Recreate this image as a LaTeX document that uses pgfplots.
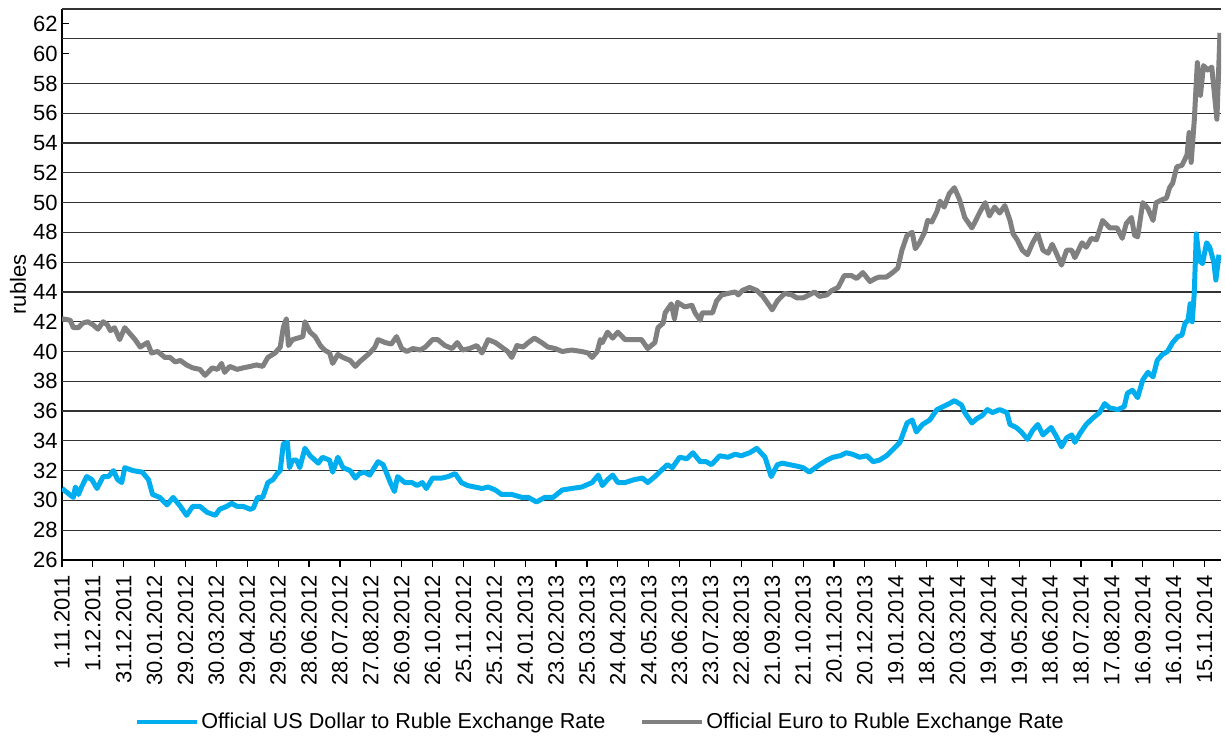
\documentclass[border=0pt]{standalone}
\usepackage{fontspec}
\setmainfont{Liberation Sans}
\usepackage{pgfplots}
\pgfplotsset{compat=1.18}
\usepackage{pgfplotstable}
\usetikzlibrary{calc}
\definecolor{usdcol}{RGB}{0,174,239}
\definecolor{eurcol}{RGB}{128,128,128}

% day index from 1.11.2011, rate in rubles
\pgfplotstableread{
d v
0 30.8
11 30.2
13 30.9
16 30.4
19 30.9
24 31.6
29 31.4
34 30.8
40 31.6
45 31.6
50 32.0
54 31.4
58 31.2
61 32.2
69 32.0
78 31.9
84 31.4
88 30.4
95 30.2
102 29.7
108 30.2
115 29.6
121 29.0
127 29.6
134 29.6
141 29.2
149 29.0
153 29.4
160 29.6
165 29.8
170 29.6
176 29.6
183 29.4
186 29.5
190 30.2
195 30.2
200 31.2
205 31.4
209 31.8
212 32.0
215 33.8
219 33.9
221 32.2
224 32.7
228 32.7
231 32.2
236 33.5
241 33.0
249 32.5
253 32.9
260 32.7
263 31.9
268 32.9
273 32.2
280 32.0
285 31.5
289 31.8
294 31.9
299 31.7
307 32.6
312 32.4
319 31.2
323 30.6
326 31.6
333 31.2
340 31.2
345 31.0
350 31.2
354 30.8
360 31.5
369 31.5
375 31.6
382 31.8
388 31.2
394 31.0
401 30.9
408 30.8
414 30.9
421 30.7
427 30.4
437 30.4
447 30.2
453 30.2
461 29.9
469 30.2
477 30.2
486 30.7
495 30.8
505 30.9
515 31.2
521 31.7
525 31.0
530 31.4
535 31.7
540 31.2
547 31.2
556 31.4
564 31.5
569 31.2
576 31.6
588 32.4
593 32.2
600 32.9
607 32.8
613 33.2
620 32.6
626 32.6
631 32.4
639 33.0
647 32.9
654 33.1
660 33.0
668 33.2
675 33.5
683 32.9
689 31.6
695 32.4
700 32.5
707 32.4
714 32.3
720 32.2
726 31.9
736 32.4
743 32.7
749 32.9
756 33.0
762 33.2
768 33.1
775 32.9
782 33.0
788 32.6
794 32.7
801 33.0
807 33.4
814 33.9
821 35.2
826 35.4
830 34.6
836 35.1
843 35.4
850 36.1
856 36.3
862 36.5
867 36.7
874 36.4
877 35.9
884 35.2
889 35.5
894 35.7
899 36.1
904 35.9
911 36.1
918 35.9
921 35.1
927 34.9
932 34.6
938 34.1
943 34.7
948 35.1
953 34.4
961 34.9
966 34.3
971 33.6
976 34.2
981 34.4
984 33.9
989 34.5
995 35.1
1001 35.5
1008 35.9
1013 36.5
1018 36.2
1026 36.1
1032 36.3
1035 37.2
1040 37.4
1045 36.9
1050 38.1
1055 38.6
1060 38.3
1064 39.4
1069 39.8
1074 40.0
1079 40.6
1084 41.0
1088 41.1
1091 41.9
1094 42.1
1096 43.2
1098 42.0
1100 43.9
1102 47.9
1105 46.1
1108 45.9
1112 47.3
1115 47.0
1119 46.0
1121 44.8
1124 46.5
}\usd

\pgfplotstableread{
d v
0 42.2
8 42.1
11 41.6
16 41.6
20 41.9
25 42.0
30 41.8
35 41.5
40 42.0
44 41.8
47 41.4
51 41.6
56 40.8
61 41.6
66 41.2
71 40.8
76 40.3
83 40.6
87 39.9
93 40.0
100 39.6
105 39.6
110 39.3
115 39.4
121 39.1
127 38.9
134 38.8
139 38.4
146 38.9
151 38.8
155 39.2
158 38.6
163 39.0
170 38.8
176 38.9
183 39.0
189 39.1
195 39.0
200 39.6
207 39.9
212 40.3
215 41.6
218 42.2
220 40.4
224 40.8
229 40.9
234 41.0
236 42.0
241 41.3
246 41.0
251 40.4
255 40.1
260 39.9
263 39.2
268 39.8
273 39.6
280 39.4
285 39.0
289 39.3
299 39.9
304 40.3
307 40.8
314 40.6
320 40.5
325 41.0
330 40.2
335 40.0
341 40.2
348 40.1
353 40.3
360 40.8
365 40.8
372 40.4
379 40.2
384 40.6
389 40.1
396 40.2
403 40.4
408 39.9
414 40.8
421 40.6
427 40.3
433 40.0
437 39.6
442 40.4
448 40.3
453 40.6
459 40.9
466 40.6
472 40.3
479 40.2
486 40.0
495 40.1
505 40.0
511 39.9
515 39.6
520 40.0
523 40.8
525 40.6
530 41.3
535 40.9
540 41.3
547 40.8
556 40.8
563 40.8
569 40.2
576 40.6
579 41.6
584 41.9
586 42.6
592 43.2
595 42.2
598 43.3
605 43.0
612 43.1
615 42.6
620 42.1
622 42.6
627 42.6
632 42.6
636 43.4
641 43.8
647 43.9
654 44.0
657 43.8
661 44.1
668 44.3
675 44.1
681 43.7
686 43.2
690 42.8
695 43.4
702 43.9
709 43.8
714 43.6
720 43.6
726 43.8
731 44.0
736 43.7
743 43.8
748 44.1
754 44.3
760 45.1
767 45.1
772 44.9
778 45.3
785 44.7
790 44.9
794 45.0
801 45.0
807 45.3
812 45.6
816 46.8
821 47.8
826 48.0
829 46.9
833 47.3
838 48.0
841 48.8
845 48.7
850 49.4
853 50.1
857 49.7
862 50.6
867 51.0
872 50.2
877 49.0
884 48.3
887 48.7
892 49.4
897 50.0
901 49.1
906 49.7
911 49.3
916 49.8
921 48.8
924 47.9
928 47.5
933 46.8
938 46.5
943 47.3
948 47.9
953 46.8
958 46.6
962 47.2
966 46.6
971 45.8
976 46.8
981 46.8
984 46.3
991 47.3
995 47.0
1000 47.6
1005 47.5
1011 48.8
1018 48.3
1025 48.3
1030 47.6
1034 48.6
1039 49.0
1042 47.8
1045 47.7
1050 50.0
1055 49.6
1060 48.8
1063 50.0
1069 50.2
1073 50.3
1076 51.0
1079 51.3
1083 52.4
1088 52.5
1093 53.2
1095 54.7
1097 52.7
1100 55.5
1103 59.4
1106 57.2
1109 59.2
1113 58.9
1117 59.1
1122 55.6
1125 61.4
}\eur

\begin{document}
\begin{tikzpicture}
\begin{axis}[
  scale only axis,
  width=579.5pt, height=275.5pt,
  xmin=0, xmax=1126,
  ymin=26, ymax=63,
  axis x line=bottom, axis y line=left,
  axis line style={-, black, line width=0.6pt},
  xtick={0,30,...,1110},
  xticklabels={1.11.2011,1.12.2011,31.12.2011,30.01.2012,29.02.2012,30.03.2012,29.04.2012,29.05.2012,28.06.2012,28.07.2012,27.08.2012,26.09.2012,26.10.2012,25.11.2012,25.12.2012,24.01.2013,23.02.2013,25.03.2013,24.04.2013,24.05.2013,23.06.2013,23.07.2013,22.08.2013,21.09.2013,21.10.2013,20.11.2013,20.12.2013,19.01.2014,18.02.2014,20.03.2014,19.04.2014,19.05.2014,18.06.2014,18.07.2014,17.08.2014,16.09.2014,16.10.2014,15.11.2014},
  xticklabel style={rotate=90, anchor=east, inner sep=1pt, font=\fontsize{11}{13}\selectfont},
  xticklabel shift=3pt,
  xtick align=outside,
  ytick={26,28,...,62},
  ytick align=inside,
  yticklabel style={inner sep=1pt, xshift=-1pt, font=\fontsize{11}{13}\selectfont},
  major tick length=3.5pt,
  tick style={black, line width=0.6pt},
  extra y ticks={28,30,...,58,61,63},
  extra y tick labels={},
  extra y tick style={grid=major, major tick length=0pt},
  major grid style={black!80, line width=0.6pt},
  /pgf/number format/assume math mode=true,
  ylabel={rubles},
  ylabel style={at={(axis description cs:-0.038,0.5)}, anchor=center, font=\fontsize{11}{13}\selectfont},
  legend columns=2,
  legend style={at={(0.057,-0.294)}, anchor=west, draw=none, fill=none,
    font=\fontsize{10.8}{13}\selectfont,
    nodes={inner sep=1pt},
    /tikz/every even column/.append style={column sep=16pt}},
  legend image code/.code={\draw[#1, line width=2.4pt] (0pt,0pt) -- (30pt,0pt);},
  line join=round,
]
\addplot[usdcol, line width=2.5pt] table[x=d, y=v] {\usd};
\addlegendentry{Official US Dollar to Ruble Exchange Rate}
\addplot[eurcol, line width=2.5pt] table[x=d, y=v] {\eur};
\addlegendentry{Official Euro to Ruble Exchange Rate}
\coordinate (bl) at (rel axis cs:0,0);
\coordinate (tr) at (rel axis cs:1,1);
\end{axis}
\pgfresetboundingbox
\path ($(bl)+(-31pt,-90pt)$) rectangle ($(tr)+(2pt,4.5pt)$);
\end{tikzpicture}
\end{document}
